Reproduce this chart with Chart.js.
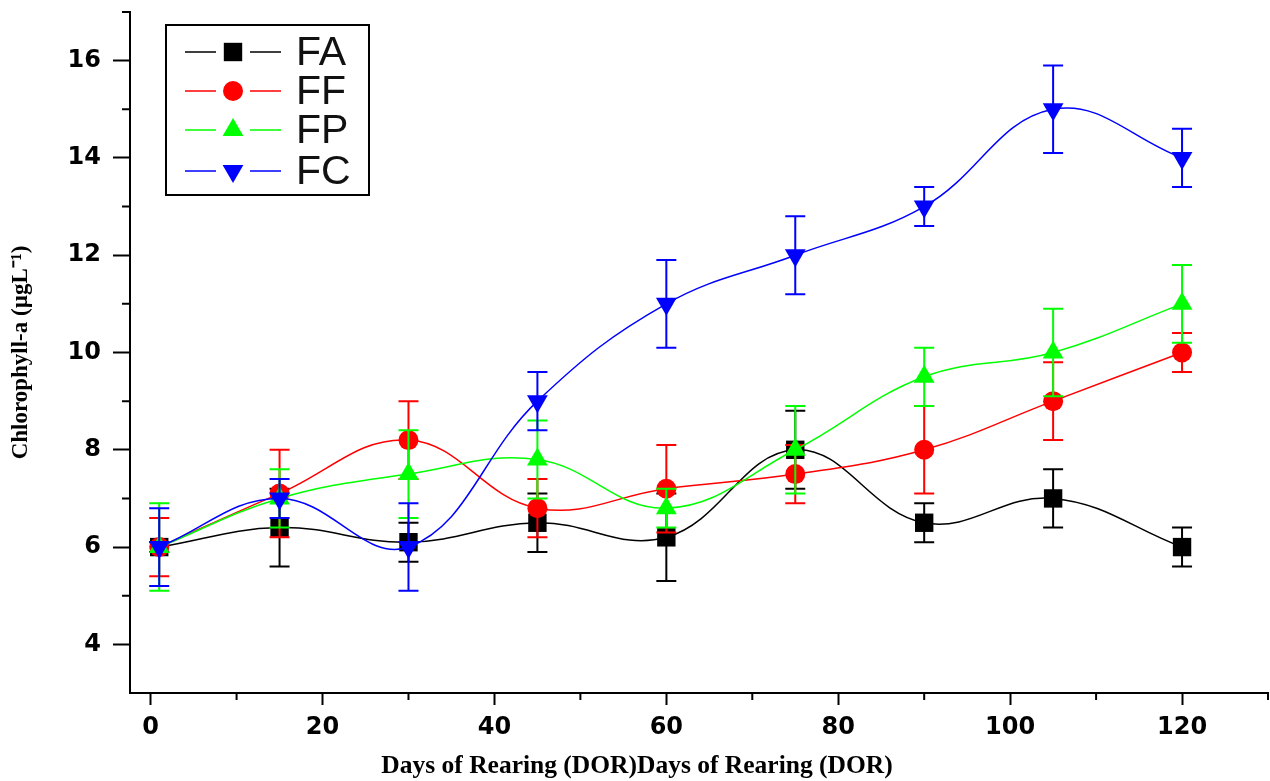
<!DOCTYPE html>
<html lang="en">
<head>
<meta charset="UTF-8">
<title>Chlorophyll-a by Days of Rearing</title>
<script src="https://cdn.jsdelivr.net/npm/chart.js"></script>
<style>
  html, body { margin: 0; padding: 0; background: #fff; }
  #wrap { width: 1270px; height: 781px; }
</style>
</head>
<body>
<div id="wrap"><canvas id="chlChart" width="1270" height="781"></canvas></div>
<script>
// data
const days = [1, 15, 30, 45, 60, 75, 90, 105, 120];

const faVals = [6.0, 6.4, 6.1, 6.5, 6.2, 8.0, 6.5, 7.0, 6.0];
const faErr  = [0.1, 0.8, 0.4, 0.6, 0.9, 0.8, 0.4, 0.6, 0.4];
const ffVals = [6.0, 7.1, 8.2, 6.8, 7.2, 7.5, 8.0, 9.0, 10.0];
const ffErr  = [0.6, 0.9, 0.8, 0.6, 0.9, 0.6, 0.9, 0.8, 0.4];
const fpVals = [6.0, 7.0, 7.5, 7.8, 6.8, 8.0, 9.5, 10.0, 11.0];
const fpErr  = [0.9, 0.6, 0.9, 0.8, 0.4, 0.9, 0.6, 0.9, 0.8];
const fcVals = [6.0, 7.0, 6.0, 9.0, 11.0, 12.0, 13.0, 15.0, 14.0];
const fcErr  = [0.8, 0.4, 0.9, 0.6, 0.9, 0.8, 0.4, 0.9, 0.6];

const xTicks = [0, 20, 40, 60, 80, 100, 120];
const yTicks = [4, 6, 8, 10, 12, 14, 16];
const xMinor = [10, 30, 50, 70, 90, 110, 130];
const yMinor = [5, 7, 9, 11, 13, 15, 17];

const xTitle = 'Days of Rearing (DOR)Days of Rearing (DOR)';
const yTitle = 'Chlorophyll-a (\u00b5gL\u207b\u00b9)';

function series(label, vals, errs, color, style, radius, rotation, order) {
    return {
        label: label,
        data: days.map((d, i) => ({ x: d, y: vals[i] })),
        errors: errs,
        borderColor: color,
        backgroundColor: color,
        borderWidth: 1.5,
        pointStyle: style,
        pointRadius: radius,
        pointRotation: rotation,
        pointBorderWidth: 0,
        pointBackgroundColor: color,
        tension: 0.4,
        order: order
    };
}

const datasets = [
    series('FA', faVals, faErr, '#000000', 'rect', 13, 0, 3),
    series('FF', ffVals, ffErr, '#ff0000', 'circle', 10, 0, 2),
    series('FP', fpVals, fpErr, '#00ff00', 'triangle', 12, 0, 1),
    series('FC', fcVals, fcErr, '#0000ff', 'triangle', 12, 180, 0)
];

// error bars under each series' own line and markers
const errorBars = {
    id: 'errorBars',
    beforeDatasetDraw(chart, args) {
        const ds = chart.data.datasets[args.index];
        const xs = chart.scales.x, ys = chart.scales.y;
        const ctx = chart.ctx;
        ctx.save();
        ctx.strokeStyle = ds.borderColor;
        ctx.lineWidth = 2;
        ds.data.forEach((p, i) => {
            const e = ds.errors[i];
            const px = xs.getPixelForValue(p.x);
            const top = ys.getPixelForValue(p.y + e);
            const bot = ys.getPixelForValue(p.y - e);
            ctx.beginPath();
            ctx.moveTo(px, top); ctx.lineTo(px, bot);
            ctx.moveTo(px - 10, top); ctx.lineTo(px + 10, top);
            ctx.moveTo(px - 10, bot); ctx.lineTo(px + 10, bot);
            ctx.stroke();
        });
        ctx.restore();
    }
};

// minor ticks, x title and the boxed legend
const extras = {
    id: 'extras',
    afterDraw(chart) {
        const ctx = chart.ctx;
        const xs = chart.scales.x, ys = chart.scales.y;
        const area = chart.chartArea;
        ctx.save();
        ctx.strokeStyle = '#000';
        ctx.lineWidth = 2;
        ctx.beginPath();
        xMinor.forEach(v => {
            const px = xs.getPixelForValue(v);
            ctx.moveTo(px, area.bottom); ctx.lineTo(px, area.bottom + 7);
        });
        yMinor.forEach(v => {
            const py = ys.getPixelForValue(v);
            ctx.moveTo(area.left, py); ctx.lineTo(area.left - 8, py);
        });
        ctx.stroke();

        ctx.fillStyle = '#000';
        ctx.font = 'bold 25.5px "Liberation Serif"';
        ctx.textAlign = 'center';
        ctx.textBaseline = 'middle';
        ctx.fillText(xTitle, 637, 766);

        // legend
        ctx.lineWidth = 2;
        ctx.strokeRect(166, 25, 203, 170);
        const rows = [52, 91, 130, 171];
        ctx.font = '41px "Liberation Sans"';
        ctx.textAlign = 'left';
        chart.data.datasets.forEach((ds, i) => {
            const y = rows[i];
            ctx.strokeStyle = ds.borderColor;
            ctx.lineWidth = 1.5;
            ctx.beginPath();
            ctx.moveTo(185, y); ctx.lineTo(216, y);
            ctx.moveTo(250, y); ctx.lineTo(281, y);
            ctx.stroke();
            ctx.fillStyle = ds.borderColor;
            Chart.helpers.drawPoint(ctx, {
                pointStyle: ds.pointStyle,
                radius: ds.pointRadius,
                rotation: ds.pointRotation,
                borderWidth: 0
            }, 233, y);
            ctx.fillStyle = '#111';
            ctx.fillText(ds.label, 296, y + 2);
        });
        ctx.restore();
    }
};

function noPad(s) {
    s.paddingLeft = 0; s.paddingRight = 0; s.paddingTop = 0; s.paddingBottom = 0;
}

const ctx = document.getElementById('chlChart').getContext('2d');
new Chart(ctx, {
    type: 'line',
    data: { datasets: datasets },
    options: {
        responsive: false,
        devicePixelRatio: 1,
        animation: false,
        layout: { autoPadding: false, padding: { top: 12, right: 2, left: 0, bottom: 0 } },
        plugins: {
            legend: { display: false },
            tooltip: { enabled: false }
        },
        scales: {
            x: {
                type: 'linear',
                min: -2.4,
                max: 130,
                afterBuildTicks: s => { s.ticks = xTicks.map(v => ({ value: v })); },
                afterFit: s => { s.height = 88; noPad(s); },
                border: { display: true, color: '#000', width: 2 },
                grid: { drawOnChartArea: false, tickLength: 12, tickWidth: 2, tickColor: '#000' },
                ticks: {
                    color: '#000',
                    padding: 8,
                    maxRotation: 0,
                    font: { family: 'DejaVu Sans', weight: 'bold', size: 24 }
                }
            },
            y: {
                min: 3,
                max: 17,
                afterBuildTicks: s => { s.ticks = yTicks.map(v => ({ value: v })); },
                afterFit: s => { s.width = 130; noPad(s); },
                border: { display: true, color: '#000', width: 2 },
                grid: { drawOnChartArea: false, tickLength: 17, tickWidth: 2, tickColor: '#000' },
                ticks: {
                    color: '#000',
                    padding: 12,
                    font: { family: 'DejaVu Sans', weight: 'bold', size: 24 }
                },
                title: {
                    display: true,
                    text: yTitle,
                    color: '#000',
                    padding: { top: 7, bottom: 0 },
                    font: { family: 'Liberation Serif', weight: 'bold', size: 23 }
                }
            }
        }
    },
    plugins: [errorBars, extras]
});
</script>
</body>
</html>
